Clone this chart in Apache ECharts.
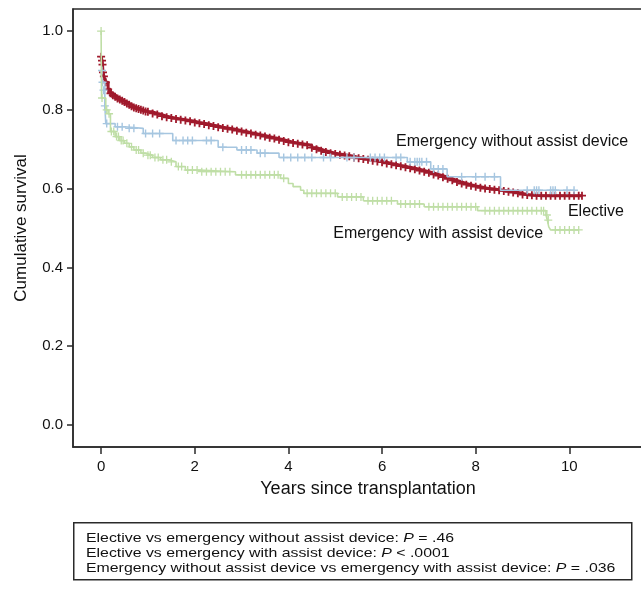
<!DOCTYPE html>
<html>
<head>
<meta charset="utf-8">
<script src="https://cdn.jsdelivr.net/npm/echarts@6/dist/echarts.min.js"></script>
<style>
html,body{margin:0;padding:0;background:#fff;}
#chart{width:641px;height:594px;}
</style>
</head>
<body>
<div id="chart"></div>
<script>
// ---- tick labels ----
const xTicks = [0, 2, 4, 6, 8, 10];
const yTicks = [0, 0.2, 0.4, 0.6, 0.8, 1.0];

// ---- Elective: curve points, each carries a censor mark ----
const electivePoints = [
  [0,0.935],[0.02,0.925],[0.03,0.915],[0.04,0.895],[0.06,0.885],[0.1,0.870],[0.15,0.852],[0.2,0.842],
  [0.25,0.837],[0.3,0.833],[0.35,0.829],[0.4,0.826],[0.45,0.823],[0.5,0.820],[0.55,0.816],[0.6,0.813],
  [0.65,0.809],[0.7,0.806],[0.75,0.804],[0.8,0.802],[0.85,0.800],[0.9,0.798],[0.95,0.796],
  [1.0,0.795],[1.1,0.791],[1.2,0.788],[1.3,0.784],[1.4,0.781],[1.5,0.779],[1.6,0.777],
  [1.7,0.775],[1.8,0.773],[1.9,0.771],[2.0,0.768],[2.1,0.766],[2.2,0.764],[2.3,0.761],
  [2.4,0.759],[2.5,0.756],[2.6,0.754],[2.7,0.752],[2.8,0.750],[2.9,0.747],[3.0,0.745],
  [3.1,0.742],[3.2,0.740],[3.3,0.737],[3.4,0.735],[3.5,0.732],[3.6,0.729],[3.7,0.727],
  [3.8,0.724],[3.9,0.721],[4.0,0.718],[4.1,0.716],[4.2,0.714],[4.3,0.712],[4.4,0.710],
  [4.5,0.704],[4.6,0.700],[4.7,0.696],[4.8,0.693],[4.9,0.690],[5.0,0.688],[5.1,0.686],
  [5.2,0.684],[5.3,0.682],[5.4,0.679],[5.5,0.677],[5.6,0.675],[5.7,0.673],[5.8,0.671],
  [5.9,0.669],[6.0,0.667],[6.1,0.664],[6.2,0.662],[6.3,0.659],[6.4,0.657],[6.5,0.654],
  [6.6,0.652],[6.7,0.649],[6.8,0.646],[6.9,0.643],[7.0,0.640],[7.1,0.636],[7.2,0.633],
  [7.3,0.629],[7.4,0.625],[7.5,0.621],[7.6,0.617],[7.7,0.613],[7.8,0.610],[7.9,0.607],
  [8.0,0.605],[8.1,0.602],[8.2,0.600],[8.3,0.599],[8.4,0.597],[8.5,0.596],[8.6,0.594],
  [8.7,0.592],[8.8,0.590],[8.9,0.588],[9.0,0.585],[9.1,0.584],[9.2,0.583],[9.3,0.582],
  [9.4,0.582],[9.5,0.582],[9.6,0.582],[9.7,0.582],[9.8,0.582],[9.9,0.582],[10.0,0.582],
  [10.1,0.582],[10.2,0.582],[10.27,0.582]
];

// ---- Emergency without assist device ----
const noDeviceSteps = [
  [0,0.90],[0.02,0.87],[0.08,0.81],[0.1,0.765],[0.3,0.757],[0.5,0.753],[0.9,0.740],
  [1.53,0.722],[2.5,0.705],[2.9,0.698],[3.33,0.690],[3.8,0.679],[6.54,0.668],
  [7.04,0.650],[7.39,0.630],[8.53,0.596],[10.1,0.596]
];
const noDeviceCensored = [
  [0.02,0.90],[0.03,0.87],[0.05,0.85],[0.08,0.81],[0.12,0.765],[0.35,0.757],[0.45,0.757],[0.6,0.753],
  [0.7,0.753],[0.95,0.740],[1.1,0.740],[1.25,0.740],[1.6,0.722],[1.75,0.722],[1.85,0.722],
  [1.95,0.722],[2.25,0.722],[2.35,0.722],[2.6,0.705],[3.0,0.698],[3.1,0.698],[3.2,0.698],
  [3.4,0.690],[3.5,0.690],[3.9,0.679],[4.05,0.679],[4.2,0.679],[4.35,0.679],[4.5,0.679],
  [4.75,0.679],[4.9,0.679],[5.25,0.679],[5.4,0.679],[5.75,0.679],[5.85,0.679],[5.95,0.679],
  [6.05,0.679],[6.3,0.679],[6.4,0.679],[6.6,0.668],[6.7,0.668],[6.75,0.668],[6.8,0.668],
  [6.85,0.668],[6.95,0.668],[7.1,0.650],[7.2,0.650],[7.3,0.650],[7.7,0.630],[8.0,0.630],
  [8.2,0.630],[8.4,0.630],[9.1,0.596],[9.25,0.596],[9.3,0.596],[9.35,0.596],[9.6,0.596],
  [9.65,0.596],[9.7,0.596],[9.95,0.596],[10.1,0.596]
];

// ---- Emergency with assist device ----
const withDeviceSteps = [
  [0,1.0],[0.01,0.83],[0.1,0.80],[0.15,0.79],[0.2,0.745],[0.3,0.732],[0.4,0.722],
  [0.5,0.715],[0.6,0.706],[0.7,0.698],[0.85,0.690],[0.95,0.685],[1.1,0.679],[1.27,0.673],
  [1.45,0.668],[1.6,0.656],[1.8,0.647],[2.1,0.643],[2.87,0.635],[3.83,0.626],[4.0,0.613],
  [4.1,0.605],[4.26,0.596],[4.33,0.588],[5.05,0.579],[5.6,0.569],[6.33,0.561],[6.9,0.554],
  [8.04,0.544],[9.5,0.533],[9.53,0.520],[9.56,0.503],[9.6,0.495],[10.2,0.495]
];
const withDeviceCensored = [
  [0,1.0],[0.02,0.83],[0.12,0.80],[0.17,0.79],
  [0.22,0.745],[0.27,0.745],[0.33,0.732],[0.37,0.732],[0.43,0.722],[0.47,0.722],[0.55,0.715],
  [0.65,0.706],[0.75,0.698],[0.8,0.698],[0.9,0.690],[1.0,0.685],[1.05,0.685],[1.15,0.679],
  [1.22,0.679],[1.32,0.673],[1.4,0.673],[1.5,0.668],[1.65,0.656],[1.72,0.656],[1.85,0.647],
  [1.95,0.647],[2.05,0.647],[2.15,0.643],[2.25,0.643],[2.35,0.643],[2.45,0.643],[2.55,0.643],
  [2.65,0.643],[2.75,0.643],[3.0,0.635],[3.1,0.635],[3.2,0.635],[3.3,0.635],[3.4,0.635],
  [3.5,0.635],[3.6,0.635],[3.7,0.635],[3.78,0.635],[3.9,0.626],[4.4,0.588],[4.5,0.588],
  [4.6,0.588],[4.7,0.588],[4.8,0.588],[4.9,0.588],[5.0,0.588],[5.15,0.579],[5.25,0.579],
  [5.35,0.579],[5.45,0.579],[5.55,0.579],[5.7,0.569],[5.8,0.569],[5.9,0.569],[6.0,0.569],
  [6.1,0.569],[6.2,0.569],[6.4,0.561],[6.5,0.561],[6.6,0.561],[6.7,0.561],[6.8,0.561],
  [7.0,0.554],[7.1,0.554],[7.2,0.554],[7.3,0.554],[7.4,0.554],[7.5,0.554],[7.6,0.554],
  [7.7,0.554],[7.8,0.554],[7.9,0.554],[8.0,0.554],[8.2,0.544],[8.3,0.544],[8.4,0.544],
  [8.5,0.544],[8.6,0.544],[8.7,0.544],[8.8,0.544],[8.9,0.544],[9.0,0.544],[9.1,0.544],
  [9.2,0.544],[9.3,0.544],[9.4,0.544],[9.45,0.544],[9.52,0.533],[9.55,0.520],[9.7,0.495],
  [9.8,0.495],[9.9,0.495],[10.0,0.495],[10.1,0.495],[10.2,0.495]
];

// ---- curve labels ----
const curveLabels = [
  { text: 'Emergency without assist device', at: [6.30, 0.719], side: 'right' },
  { text: 'Elective', at: [9.97, 0.541], side: 'right' },
  { text: 'Emergency with assist device', at: [9.44, 0.487], side: 'left' }
];

// ---- p-value box ----
const pLines = [
  ['Elective vs emergency without assist device: ', '= .46'],
  ['Elective vs emergency with assist device: ', '< .0001'],
  ['Emergency without assist device vs emergency with assist device: ', '= .036']
];

const FONT = '"Liberation Sans", Arial, Helvetica, sans-serif';
const RED = '#a01a2c', BLUE = '#a6c6e0', GREEN = '#bfdea6';
const AX = '#2a2a2a', TXT = '#111111';
const PLUS = 'path://M0,4L8,4M4,0L4,8';

const chart = echarts.init(document.getElementById('chart'), null, { renderer: 'canvas' });

function censorSeries(name, data, color, size, width, z) {
  return {
    name, type: 'scatter', data, symbol: PLUS, symbolSize: size, z,
    itemStyle: { color: 'none', borderColor: color, borderWidth: width, opacity: 1 },
    emphasis: { disabled: true }, silent: true
  };
}

const option = {
  animation: false,
  backgroundColor: '#ffffff',
  textStyle: { fontFamily: FONT },
  grid: {
    left: 73, top: 9, width: 590, height: 438,
    show: true, borderColor: AX, borderWidth: 1.5, backgroundColor: 'transparent',
    containLabel: false, outerBoundsMode: 'none'
  },
  xAxis: {
    type: 'value', min: -0.6, max: 12,
    axisLine: { show: true, onZero: false, lineStyle: { color: AX, width: 1.5 } },
    axisTick: { show: true, customValues: xTicks, length: 7, lineStyle: { color: AX, width: 1.5 } },
    axisLabel: { customValues: xTicks, margin: 12, fontSize: 15, color: TXT, fontFamily: FONT },
    splitLine: { show: false },
    name: 'Years since transplantation', nameLocation: 'middle', nameGap: 33,
    nameTextStyle: { fontSize: 18, color: TXT, fontFamily: FONT }
  },
  yAxis: {
    type: 'value', min: -0.056, max: 1.056,
    axisLine: { show: true, onZero: false, lineStyle: { color: AX, width: 1.5 } },
    axisTick: { show: true, customValues: yTicks, length: 6, lineStyle: { color: AX, width: 1.5 } },
    axisLabel: { customValues: yTicks, margin: 10, fontSize: 15, color: TXT, fontFamily: FONT,
      formatter: v => Number(v).toFixed(1) },
    splitLine: { show: false },
    name: 'Cumulative survival', nameLocation: 'middle', nameGap: 43, nameRotate: 90,
    nameTextStyle: { fontSize: 17, color: TXT, fontFamily: FONT }
  },
  series: [
    {
      name: 'Elective', type: 'line', step: 'end', data: electivePoints, z: 3,
      symbol: PLUS, symbolSize: 8, showSymbol: true, showAllSymbol: true,
      lineStyle: { color: RED, width: 3 },
      itemStyle: { color: 'none', borderColor: RED, borderWidth: 1.8 },
      emphasis: { disabled: true }, silent: true
    },
    {
      name: 'Emergency without assist device', type: 'line', step: 'end', data: noDeviceSteps, z: 4,
      showSymbol: false, lineStyle: { color: BLUE, width: 1.6 },
      emphasis: { disabled: true }, silent: true
    },
    censorSeries('noDeviceCensored', noDeviceCensored, BLUE, 8, 1.4, 4),
    {
      name: 'Emergency with assist device', type: 'line', step: 'end', data: withDeviceSteps, z: 5,
      showSymbol: false, lineStyle: { color: GREEN, width: 1.6 },
      emphasis: { disabled: true }, silent: true
    },
    censorSeries('withDeviceCensored', withDeviceCensored, GREEN, 8, 1.3, 5),
    {
      name: 'labels', type: 'scatter', symbolSize: 0, z: 10, silent: true,
      itemStyle: { opacity: 1 },
      data: curveLabels.map(l => ({
        value: l.at,
        label: {
          show: true, formatter: l.text, position: l.side, distance: 0,
          fontSize: 16, color: TXT, fontFamily: FONT, textBorderWidth: 0, opacity: 1
        }
      }))
    }
  ],
  graphic: [
    {
      type: 'rect', left: 73, top: 522, z: 20,
      shape: { width: 558, height: 57 },
      style: { fill: '#fff', stroke: AX, lineWidth: 1.5 }
    }
  ].concat(pLines.map((p, i) => ({
    type: 'text', x: 86, y: 538.5 + i * 14.8, z: 21, scaleX: 1.22,
    style: {
      text: '{n|' + p[0] + '}{i|P}{n| ' + p[1] + '}',
      verticalAlign: 'middle',
      rich: {
        n: { fontSize: 13, fontFamily: FONT, fill: TXT },
        i: { fontSize: 13, fontFamily: FONT, fill: TXT, fontStyle: 'italic' }
      }
    }
  })))
};

chart.setOption(option);
</script>
</body>
</html>
